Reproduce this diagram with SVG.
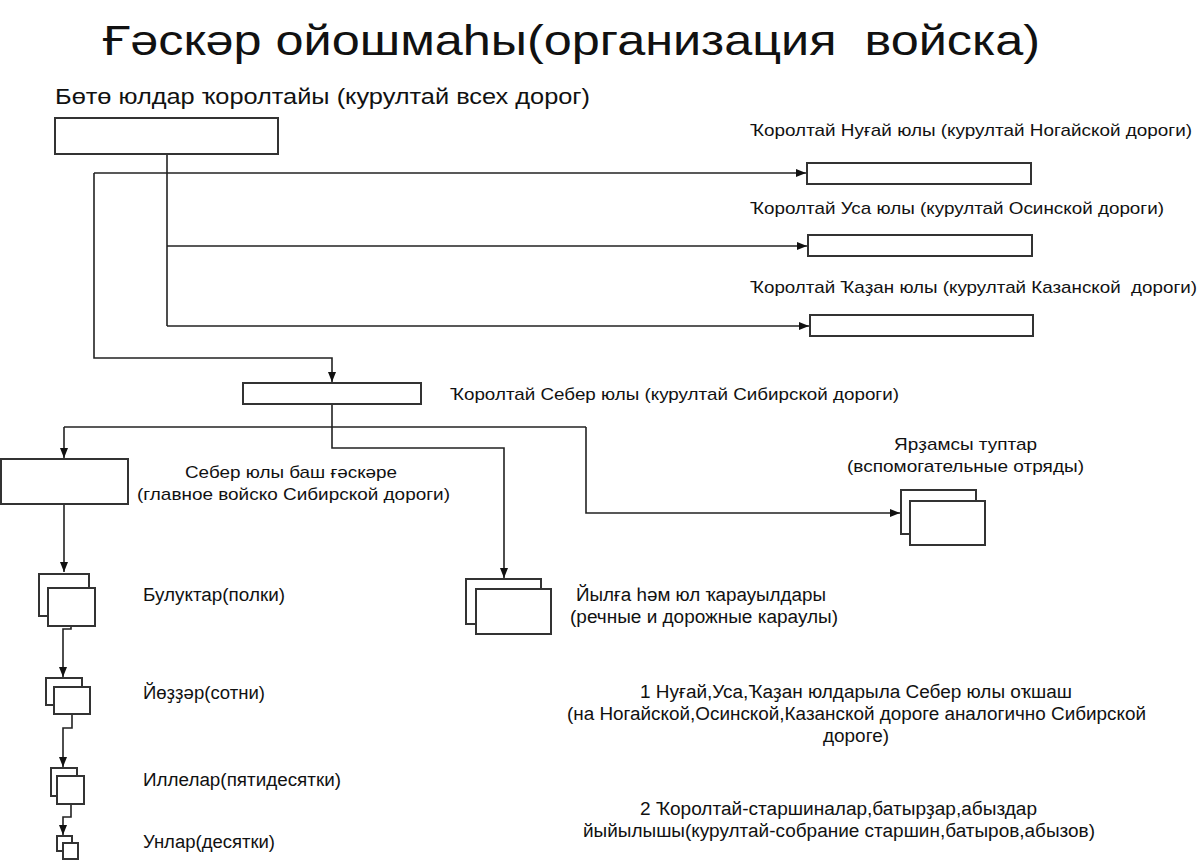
<svg xmlns="http://www.w3.org/2000/svg" width="1200" height="861" viewBox="0 0 1200 861">
<style>
text{font-family:"Liberation Sans","DejaVu Sans",Arial,sans-serif;fill:#111}
.t{font-size:43px}
.h{font-size:22px}
.l{font-size:17px}
.m{font-size:18px}
.box{fill:#fff;stroke:#333;stroke-width:2}
.c{fill:none;stroke:#222;stroke-width:1.6}
.a{marker-end:url(#ar)}
</style>
<defs>
<marker id="ar" viewBox="0 0 10 8" refX="10" refY="4" markerWidth="10" markerHeight="8" markerUnits="userSpaceOnUse" orient="auto">
<path d="M0,0 L10,4 L0,8 Z" fill="#111"/>
</marker>
</defs>
<rect width="1200" height="861" fill="#fff"/>
<text class="t" x="103" y="55" textLength="937" lengthAdjust="spacingAndGlyphs" xml:space="preserve">Ғәскәр ойошмаһы(организация  войска)</text>

<g id="connectors">
<path class="c" d="M167,154 V326"/>
<path class="c a" d="M94,173 H806"/>
<path class="c a" d="M167,246 H807"/>
<path class="c a" d="M167,326 H809"/>
<path class="c a" d="M94,173 V358 H332 V382"/>
<path class="c a" d="M332,404 V448 H504 V578"/>
<path class="c" d="M64,427 H586"/>
<path class="c a" d="M64,427 V458"/>
<path class="c a" d="M586,427 V513 H900"/>
<path class="c a" d="M64,504 V572"/>
<path class="c a" d="M71,626 V629 H63 V677"/>
<path class="c a" d="M72,714 V728 H63 V767"/>
<path class="c a" d="M71,804 V817 H63 V835"/>
</g>

<g id="all-kurultai">
<text class="h" x="55" y="104" textLength="535" lengthAdjust="spacingAndGlyphs">Бөтө юлдар ҡоролтайы (курултай всех дорог)</text>
<rect class="box" x="55" y="118" width="223" height="36"/>
</g>

<g id="nogai">
<text class="l" x="750" y="136" textLength="442" lengthAdjust="spacingAndGlyphs">Ҡоролтай Нуғай юлы (курултай Ногайской дороги)</text>
<rect class="box" x="807" y="163" width="224" height="21"/>
</g>

<g id="usa">
<text class="l" x="750" y="214" textLength="414" lengthAdjust="spacingAndGlyphs">Ҡоролтай Уса юлы (курултай Осинской дороги)</text>
<rect class="box" x="808" y="235" width="224" height="21"/>
</g>

<g id="kazan">
<text class="l" x="750" y="293" textLength="447" lengthAdjust="spacingAndGlyphs" xml:space="preserve">Ҡоролтай Ҡаҙан юлы (курултай Казанской  дороги)</text>
<rect class="box" x="810" y="315" width="223" height="21"/>
</g>

<g id="siberian">
<rect class="box" x="243" y="383" width="178" height="21"/>
<text class="l" x="450" y="400" textLength="449" lengthAdjust="spacingAndGlyphs">Ҡоролтай Себер юлы (курултай Сибирской дороги)</text>
</g>

<g id="main-army">
<rect class="box" x="1" y="459" width="127" height="45"/>
<text class="l" x="185" y="478" textLength="212" lengthAdjust="spacingAndGlyphs">Себер юлы баш ғәскәре</text>
<text class="l" x="137" y="500" textLength="313" lengthAdjust="spacingAndGlyphs">(главное войско Сибирской дороги)</text>
</g>

<g id="river-guards">
<rect class="box" x="466" y="579" width="75" height="45"/>
<rect class="box" x="476" y="589" width="75" height="45"/>
<text class="m" x="576" y="601" textLength="250" lengthAdjust="spacingAndGlyphs">Йылға һәм юл ҡарауылдары</text>
<text class="m" x="570" y="623" textLength="268" lengthAdjust="spacingAndGlyphs">(речные и дорожные караулы)</text>
</g>

<g id="auxiliary">
<text class="l" x="894" y="450" textLength="143" lengthAdjust="spacingAndGlyphs">Ярҙамсы туптар</text>
<text class="l" x="847" y="472" textLength="237" lengthAdjust="spacingAndGlyphs">(вспомогательные отряды)</text>
<rect class="box" x="901" y="490" width="75" height="44"/>
<rect class="box" x="910" y="501" width="75" height="44"/>
</g>

<g id="regiments">
<rect class="box" x="39" y="574" width="50" height="42"/>
<rect class="box" x="48" y="588" width="47" height="38"/>
<text class="m" x="143" y="601" textLength="142" lengthAdjust="spacingAndGlyphs">Булуктар(полки)</text>
</g>

<g id="hundreds">
<rect class="box" x="46" y="678" width="36" height="27"/>
<rect class="box" x="54" y="687" width="36" height="27"/>
<text class="m" x="143" y="699" textLength="122" lengthAdjust="spacingAndGlyphs">Йөҙҙәр(сотни)</text>
</g>

<g id="fifties">
<rect class="box" x="51" y="768" width="26" height="28"/>
<rect class="box" x="57" y="776" width="27" height="28"/>
<text class="m" x="143" y="786" textLength="198" lengthAdjust="spacingAndGlyphs">Иллелар(пятидесятки)</text>
</g>

<g id="tens">
<rect class="box" x="57" y="836" width="15" height="15"/>
<rect class="box" x="63" y="843" width="15" height="16"/>
<text class="m" x="143" y="848" textLength="132" lengthAdjust="spacingAndGlyphs">Унлар(десятки)</text>
</g>

<g id="note1">
<text class="m" x="640" y="698" textLength="432" lengthAdjust="spacingAndGlyphs">1 Нуғай,Уса,Ҡаҙан юлдарыла Себер юлы оҡшаш</text>
<text class="m" x="567" y="720" textLength="579" lengthAdjust="spacingAndGlyphs">(на Ногайской,Осинской,Казанской дороге аналогично Сибирской</text>
<text class="m" x="823" y="742" textLength="66" lengthAdjust="spacingAndGlyphs">дороге)</text>
</g>

<g id="note2">
<text class="m" x="640" y="815" textLength="397" lengthAdjust="spacingAndGlyphs">2 Ҡоролтай-старшиналар,батырҙар,абыздар</text>
<text class="m" x="583" y="837" textLength="512" lengthAdjust="spacingAndGlyphs">йыйылышы(курултай-собрание старшин,батыров,абызов)</text>
</g>
</svg>
